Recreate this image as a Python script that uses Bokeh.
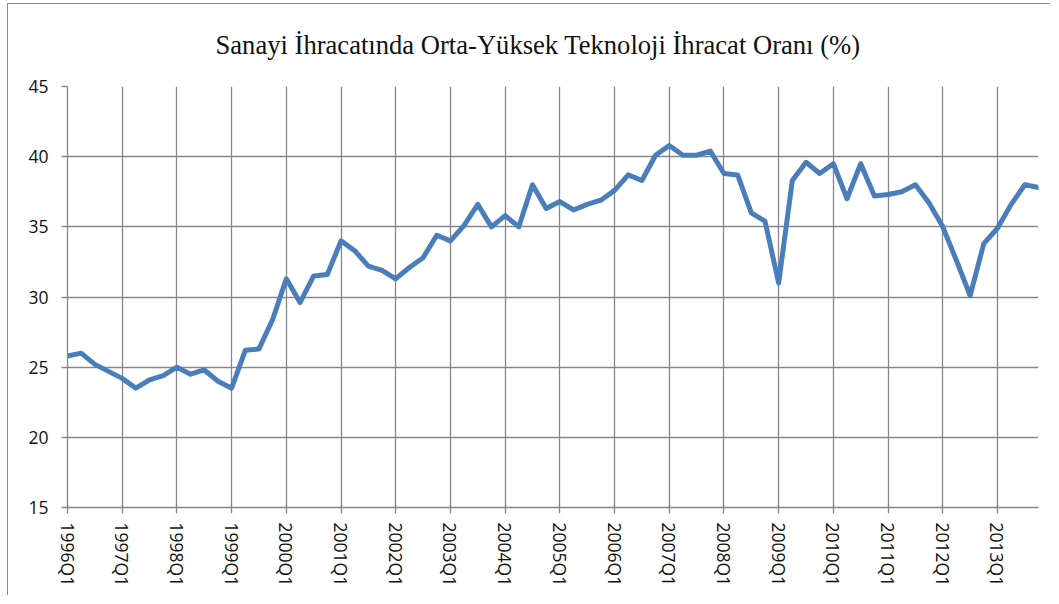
from bokeh.plotting import figure
from bokeh.models import Range1d, FixedTicker, Title
from bokeh.embed import file_html
from bokeh.resources import INLINE

years = list(range(1996, 2014))
quarters = [f"{y}Q{q}" for y in years for q in range(1, 5)]

values = [
    25.8, 26.0, 25.2, 24.7, 24.2, 23.5, 24.1, 24.4,
    25.0, 24.5, 24.8, 24.0, 23.5, 26.2, 26.3, 28.4,
    31.3, 29.6, 31.5, 31.6, 34.0, 33.3, 32.2, 31.9,
    31.3, 32.1, 32.8, 34.4, 34.0, 35.1, 36.6, 35.0,
    35.8, 35.0, 38.0, 36.3, 36.8, 36.2, 36.6, 36.9,
    37.6, 38.7, 38.3, 40.1, 40.8, 40.1, 40.1, 40.4,
    38.8, 38.7, 36.0, 35.4, 31.0, 38.3, 39.6, 38.8,
    39.5, 37.0, 39.5, 37.2, 37.3, 37.5, 38.0, 36.7,
    35.0, 32.6, 30.1, 33.8, 34.9, 36.6, 38.0, 37.8,
]

title_text = "Sanayi İhracatında Orta-Yüksek Teknoloji İhracat Oranı (%)"
y_ticks = [15, 20, 25, 30, 35, 40, 45]

xs = list(range(len(quarters)))
tick_idx = [i for i, q in enumerate(quarters) if q.endswith("Q1")]

grid_col = "#878787"

p = figure(width=1043, height=592, output_backend="svg", toolbar_location=None,
           x_range=Range1d(0, len(quarters) - 1), y_range=Range1d(15, 45),
           min_border_left=59, min_border_right=13, min_border_top=82,
           min_border_bottom=89)
p.styles = {"margin-left": "7px", "margin-top": "3px",
            "border-left": "1px solid #8c8c8c", "border-top": "1px solid #8c8c8c"}
p.outline_line_color = None
p.background_fill_color = "white"
p.border_fill_color = "white"

p.title = Title(text=title_text, align="left", offset=148, vertical_align="top",
                standoff=50, text_font="Liberation Serif", text_font_size="26.6px",
                text_font_style="normal", text_color="#111111")

p.xaxis.ticker = FixedTicker(ticks=tick_idx)
p.xaxis.major_label_overrides = {i: quarters[i] for i in tick_idx}
p.xaxis.major_label_orientation = "vertical"
p.xaxis.minor_tick_line_color = None
p.xaxis.major_tick_out = 6
p.xaxis.major_tick_in = 3
p.xaxis.major_label_standoff = 9
p.xaxis.axis_line_color = grid_col
p.xaxis.major_tick_line_color = grid_col
p.xaxis.axis_line_width = 1.3
p.xaxis.major_tick_line_width = 1.3

p.yaxis.ticker = FixedTicker(ticks=y_ticks)
p.yaxis.minor_tick_line_color = None
p.yaxis.major_tick_out = 6
p.yaxis.major_tick_in = 0
p.yaxis.major_label_standoff = 13
p.yaxis.axis_line_color = grid_col
p.yaxis.major_tick_line_color = grid_col
p.yaxis.axis_line_width = 1.3
p.yaxis.major_tick_line_width = 1.3

for ax in (p.xaxis, p.yaxis):
    ax.major_label_text_font = "Open Sans"
    ax.major_label_text_font_size = "17.5px"
    ax.major_label_text_color = "#111111"

p.xgrid.ticker = FixedTicker(ticks=tick_idx)
p.ygrid.ticker = FixedTicker(ticks=y_ticks)
for g in (p.xgrid, p.ygrid):
    g.grid_line_color = grid_col
    g.grid_line_width = 1.3

p.line(xs, values, line_color="#4a7ebb", line_width=5, line_join="round", line_cap="round")

open("out.html", "w").write(file_html(p, INLINE))
